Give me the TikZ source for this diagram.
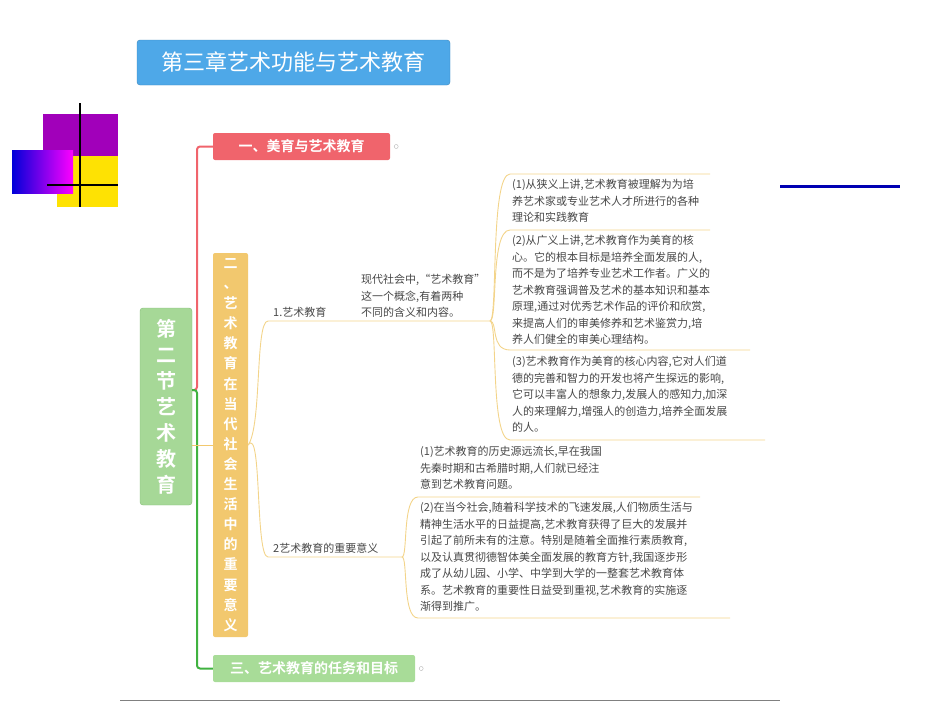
\documentclass[tikz,border=0pt]{standalone}
\usepackage{fontspec}
\setmainfont{Noto Sans CJK SC}
\newfontfamily\cjkb{Noto Sans CJK SC Bold}
\definecolor{rootg}{HTML}{A6D897}
\definecolor{rootgd}{HTML}{86BE78}
\definecolor{yb}{HTML}{F2C86E}
\definecolor{rb}{HTML}{F0646C}
\definecolor{gb}{HTML}{A8DC98}
\definecolor{tb}{HTML}{4EA8E8}
\definecolor{ln}{HTML}{F3D48A}
\begin{document}
\begin{tikzpicture}[x=1pt,y=-1pt,
  small/.style={font=\fontsize{11}{16.5}\selectfont,text=black!72,align=left,anchor=north west,inner sep=0pt},
  head/.style={rounded corners=2pt,font=\cjkb\fontsize{14}{16}\selectfont,text=white,inner sep=0pt},
  yl/.style={draw=ln,line width=0.9pt}]
\useasboundingbox (0,0) rectangle (950,713);
% decorations
\fill[violet!60!magenta!90!blue] (43,114) rectangle (118,160);
\fill[yellow!85!orange] (57,156) rectangle (118,207);
\shade[left color=blue!85!black,right color=magenta] (12,150) rectangle (73,193);
\draw[line width=1.2pt] (80,103) -- (80,207);
\draw[line width=1.2pt] (47,185) -- (118,185);
\draw[blue!70!black,line width=3pt] (780,186) -- (900,186);
\draw[gray,line width=0.8pt] (120,700) -- (780,700);
% title
\node[fill=tb,draw=tb!80!black,rounded corners=3pt,minimum width=313pt,minimum height=45pt,inner sep=0pt,text=white,font=\fontsize{22}{24}\selectfont] (title) at (293.5,62.5) {第三章艺术功能与艺术教育};
% root
\node[fill=rootg,draw=rootgd,rounded corners=3pt,minimum width=52pt,minimum height=197pt,inner sep=0pt,text=white,font=\cjkb\fontsize{20}{26}\selectfont,align=center] (root) at (166,406.5) {第\\二\\节\\艺\\术\\教\\育};
% branches
\node[head,fill=rb,minimum width=177pt,minimum height=27pt] (b1) at (301.5,146.5) {一、美育与艺术教育};
\node[head,fill=yb,minimum width=35pt,minimum height=384pt,align=center,font=\cjkb\fontsize{14}{20.1}\selectfont] (b2) at (230.5,445) {二\\、\\艺\\术\\教\\育\\在\\当\\代\\社\\会\\生\\活\\中\\的\\重\\要\\意\\义};
\node[head,fill=gb,minimum width=202pt,minimum height=27pt] (b3) at (314,668.5) {三、艺术教育的任务和目标};
\coordinate (rj) at (root.east|-0,390);
\draw[rb,line width=2pt,rounded corners=3pt] (rj) -- (197,390) -- (197,146.5) -- (b1.west);
\draw[green!60!black!75,line width=2pt,rounded corners=3pt] (rj) -- (197,390) -- (197,668.5) -- (b3.west);
\draw[yb,line width=1pt] (root.east|-b2.west) -- (b2.west);
\draw[gray!60] (b1.east)++(6,0) circle (2pt);
\draw[gray!60] (b3.east)++(6,0) circle (2pt);
% level 2
\coordinate (s1) at (268,321);
\coordinate (s1e) at (490,321);
\coordinate (s2) at (268,557);
\coordinate (s2e) at (402,557);
\draw[yl] (b2.east) .. controls (262,425) and (255,321) .. (s1) -- (s1e);
\draw[yl] (b2.east) .. controls (262,425) and (255,557) .. (s2) -- (s2e);
\node[small,anchor=south west] (t1) at (273,318) {1.艺术教育};
\node[small,anchor=south west] (t2) at (273,554) {2艺术教育的重要意义};
\node[small,anchor=south west] (t1m) at (361,318) {现代社会中,“艺术教育”\\这一个概念,有着两种\\不同的含义和内容。};
% level 3 under 1
\draw[yl] (s1e) .. controls (498,321) and (490,174) .. (510,174) -- (710,174);
\draw[yl] (s1e) .. controls (498,321) and (490,230) .. (510,230) -- (710,230);
\draw[yl] (s1e) .. controls (498,321) and (490,350) .. (510,350) -- (750,350);
\draw[yl] (s1e) .. controls (498,321) and (490,440) .. (510,440) -- (765,440);
\node[small] (a1) at (512,179) {(1)从狭义上讲,艺术教育被理解为为培\\养艺术家或专业艺术人才所进行的各种\\理论和实践教育};
\node[small] (a2) at (512,235) {(2)从广义上讲,艺术教育作为美育的核\\心。它的根本目标是培养全面发展的人,\\而不是为了培养专业艺术工作者。广义的\\艺术教育强调普及艺术的基本知识和基本\\原理,通过对优秀艺术作品的评价和欣赏,\\来提高人们的审美修养和艺术鉴赏力,培\\养人们健全的审美心理结构。};
\node[small] (a3) at (512,356) {(3)艺术教育作为美育的核心内容,它对人们道\\德的完善和智力的开发也将产生探远的影响,\\它可以丰富人的想象力,发展人的感知力,加深\\人的来理解力,增强人的创造力,培养全面发展\\的人。};
% level 3 under 2
\draw[yl] (s2e) .. controls (408,557) and (402,497) .. (418,497) -- (700,497);
\draw[yl] (s2e) .. controls (408,557) and (402,618) .. (418,618) -- (730,618);
\node[small] (c1) at (420,446) {(1)艺术教育的历史源远流长,早在我国\\先秦时期和古希腊时期,人们就已经注\\意到艺术教育问题。};
\node[small] (c2) at (420,502) {(2)在当今社会,随着科学技术的飞速发展,人们物质生活与\\精神生活水平的日益提高,艺术教育获得了巨大的发展并\\引起了前所未有的注意。特别是随着全面推行素质教育,\\以及认真贯彻德智体美全面发展的教育方针,我国逐步形\\成了从幼儿园、小学、中学到大学的一整套艺术教育体\\系。艺术教育的重要性日益受到重视,艺术教育的实施逐\\渐得到推广。};
\end{tikzpicture}
\end{document}
